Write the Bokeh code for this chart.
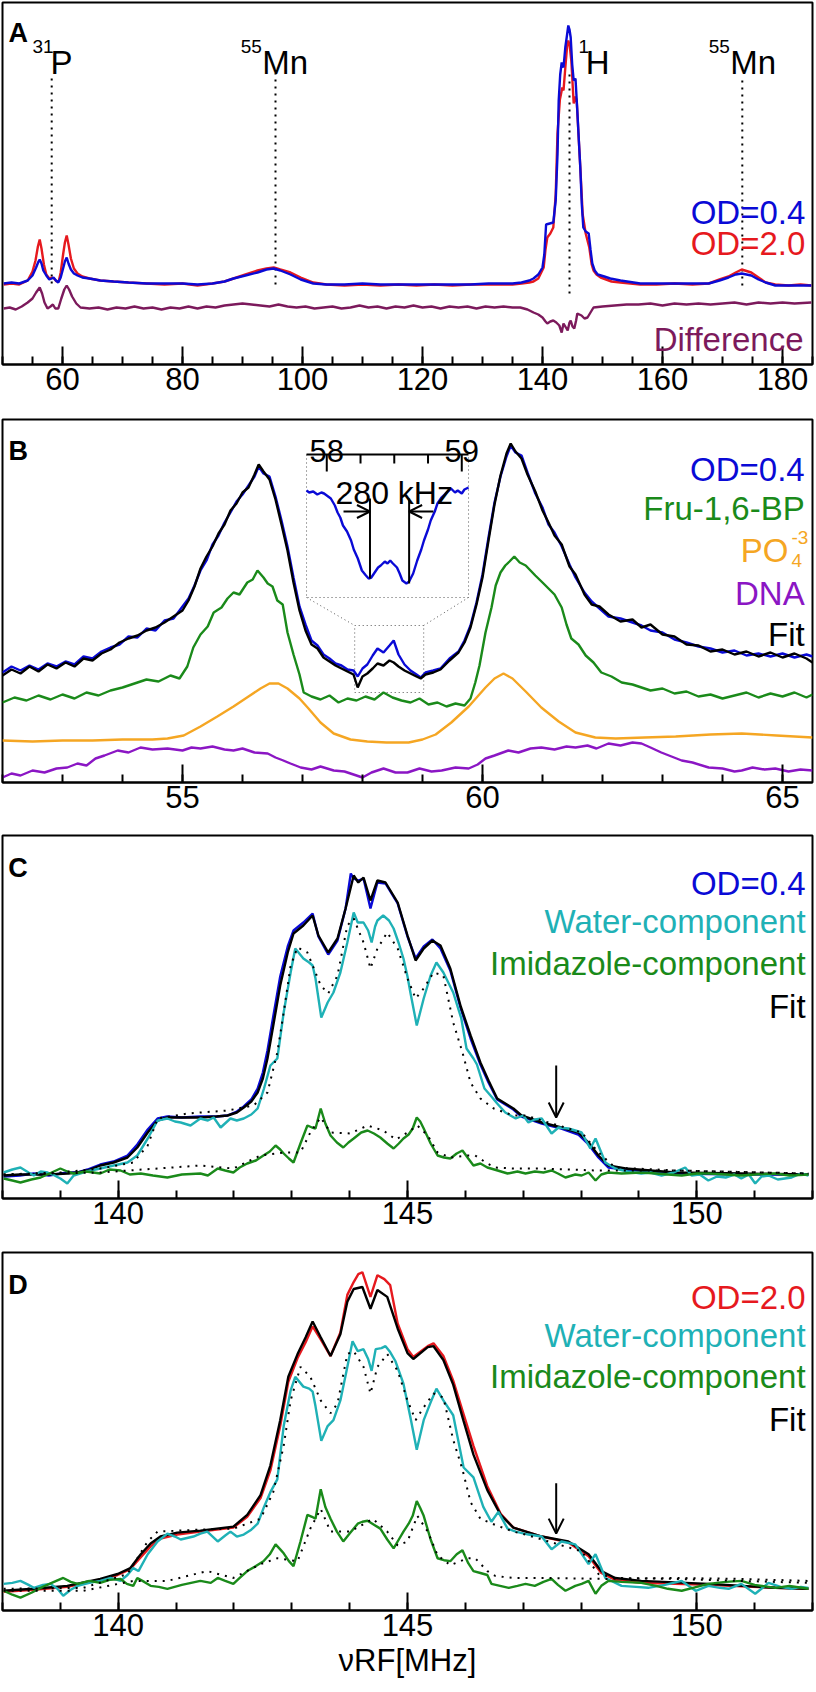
from bokeh.plotting import figure
from bokeh.models import Range1d, FixedTicker, Label, Arrow, OpenHead
from bokeh.layouts import column
from bokeh.embed import file_html
from bokeh.resources import INLINE

FONT = "Liberation Sans"
BLUE = "#0a0ad6"
RED = "#e6191e"
DIFF = "#7c1a5c"
GREEN = "#1a8a1a"
ORANGE = "#f5a623"
VIOLET = "#8b16c4"
CYAN = "#1fb1b6"

# ---------------- data (x in MHz, y in arbitrary intensity units) ----------------
A_TICKS = [60, 80, 100, 120, 140, 160, 180]
B_TICKS = [55, 60, 65]
CD_TICKS = [140, 145, 150]
INSET_TICKS = [58.0, 58.25, 58.5, 58.75, 59.0]
INSET_TICK_LABELS = ["58", "59"]
X_TITLE = "νRF[MHz]"

A_OD04 = [(50.2,81),(51.5,82),(52.8,81),(54.2,84),(55.0,89),(55.6,97),(56.0,103),(56.2,105),(56.5,101),(56.8,94),(57.3,89),(57.8,85),(58.2,86),(58.5,87),(58.9,84),(59.3,82),(59.7,87),(60.1,96),(60.4,103),(60.7,107),(61.0,101),(61.4,95),(61.9,91),(62.5,89),(63.3,87),(64.5,86),(66.3,84),(68.5,83),(71,82),(74,81),(77,81),(80,81),(82.5,80),(85,81),(87,83),(88.5,86),(90.5,89),(92.5,92),(94,95),(95.2,96),(96.3,94),(98,90),(99.7,85),(101.8,81),(104,80),(107,80),(110,81),(113,80),(116,80),(119,80),(122,80),(125,80),(128,80),(131,81),(133,81),(135,81),(136.5,82),(137.8,84),(138.5,86),(139.3,90),(140.0,97),(140.3,110),(140.6,140),(141.2,141),(141.8,142),(142.2,164),(142.5,210),(142.7,264),(142.95,290),(143.2,302),(143.5,297),(143.8,317),(144.1,330),(144.3,339),(144.5,335),(144.7,327),(144.95,300),(145.2,284),(145.5,286),(145.8,254),(146.05,225),(146.3,197),(146.55,160),(146.8,137),(147.2,133),(147.7,131),(148.0,115),(148.3,101),(148.7,94),(149.2,90),(150.3,88),(151.3,86),(153,84),(156.3,81),(159,81),(162,81),(165,81),(167.7,81),(169.5,84),(171,87),(172.2,90),(173.2,91),(174.8,89),(176,85),(177.2,82),(178.8,79),(181,79),(183,79),(184.8,79)]
A_OD20 = [(50.2,80),(51.5,81),(52.8,80),(54.2,84),(55.0,93),(55.5,104),(55.9,118),(56.2,125),(56.5,116),(56.9,100),(57.3,90),(57.8,86),(58.2,87),(58.6,86),(59.0,83),(59.4,84),(59.7,92),(60.1,110),(60.4,122),(60.7,129),(61.0,120),(61.4,106),(61.9,96),(62.5,91),(63.3,88),(64.5,86),(66.3,84),(68.5,83),(71,82),(74,81),(77,80),(80,81),(82.5,79),(85,81),(87,83),(88.5,86),(90.5,90),(92.5,94),(94,96),(95.2,97),(96.3,95),(98,92),(99.7,87),(101.8,82),(104,80),(107,79),(110,80),(113,79),(116,80),(119,79),(122,80),(125,79),(128,80),(131,80),(133,80),(135,80),(136.5,81),(137.8,82),(138.5,83),(139.3,86),(140.2,97),(140.5,115),(140.8,127),(141.3,131),(141.8,137),(142.2,170),(142.5,231),(142.9,265),(143.3,277),(143.5,274),(143.9,304),(144.1,318),(144.3,324),(144.55,318),(144.8,304),(145.2,261),(145.5,268),(145.7,264),(146.0,230),(146.3,197),(146.7,150),(147.2,131),(147.8,117),(148.2,100),(148.5,94),(149.0,90),(149.7,87),(151.5,83),(153,82),(156.3,80),(159,80),(162,81),(165,80),(167.7,81),(169.5,85),(171,88),(172.2,92),(173.2,95),(174.8,92),(176,87),(177.2,82),(178.8,80),(181,79),(183,80),(184.8,79)]
A_DIFF = [(50.2,56),(51.2,57),(52.2,55),(53.2,58),(54.2,62),(55.0,66),(55.6,72),(56.2,77),(56.6,71),(57.0,62),(57.5,56),(58.0,58),(58.4,60),(58.8,56),(59.3,56),(59.8,66),(60.3,75),(60.7,79),(61.1,75),(61.6,68),(62.3,61),(63,57),(64.5,56),(66,57),(67.5,55),(69,57),(70.5,56),(72,58),(73.5,56),(75,57),(76.5,55),(78,57),(79.5,56),(81,58),(82.5,56),(84,58),(85.5,57),(87,59),(88.5,60),(90,61),(91.5,60),(93,59),(94.5,58),(96,60),(97.5,58),(99,57),(100.5,58),(102,56),(103.5,57),(105,58),(106.5,56),(108,57),(109.5,59),(111,57),(112.5,58),(114,56),(115.5,58),(117,57),(118.5,59),(120,57),(121.5,58),(123,56),(124.5,58),(126,57),(127.5,58),(129,56),(130.5,58),(132,57),(133.5,58),(135,57),(136.3,57),(137.5,55),(138.5,52),(139.3,50),(140.0,47),(140.5,43),(140.8,41),(141.3,43),(141.8,44),(142.3,42),(142.8,39),(143.2,32),(143.5,41),(143.8,38),(144.2,34),(144.5,42),(144.7,44),(145.0,38),(145.3,36),(145.6,44),(145.8,51),(146.5,49),(147.0,46),(147.5,47),(148.0,52),(148.5,57),(150,58),(152,59),(154,60),(156,60),(158,61),(160,59),(162,61),(164,60),(166,61),(168,60),(170,61),(172,62),(174,60),(176,62),(178,61),(180,62),(182,61),(184.8,62)]
A_MARK_X = [58.2, 95.5, 144.5, 173.3]
A_MARK_TOP = [291, 291, 291, 289]
A_MARK_BOTTOM = [81, 80, 71, 79]

B_OD04 = [(52.0,110),(52.15,116),(52.3,112),(52.45,117),(52.6,113),(52.75,119),(52.9,116),(53.05,121),(53.2,118),(53.35,126),(53.5,124),(53.65,131),(53.8,135),(53.95,138),(54.1,146),(54.25,145),(54.4,154),(54.55,152),(54.7,162),(54.85,164),(55.0,176),(55.1,184),(55.2,197),(55.3,212),(55.4,222),(55.5,238),(55.6,247),(55.7,260),(55.8,270),(55.9,281),(56.0,288),(56.1,297),(56.2,306),(56.27,316),(56.35,309),(56.45,306),(56.55,286),(56.65,262),(56.75,236),(56.85,205),(56.95,176),(57.05,158),(57.15,142),(57.25,137),(57.35,128),(57.45,124),(57.55,119),(57.65,117),(57.75,113),(57.85,112),(57.92,106),(58.0,114),(58.08,118),(58.17,127),(58.25,134),(58.35,130),(58.45,137),(58.52,142),(58.6,128),(58.7,118),(58.8,112),(58.9,108),(58.97,105),(59.05,110),(59.18,112),(59.3,114),(59.45,124),(59.6,131),(59.7,142),(59.8,157),(59.9,180),(60.0,208),(60.1,245),(60.2,280),(60.3,306),(60.4,326),(60.47,337),(60.55,330),(60.65,327),(60.75,310),(60.88,289),(61.0,275),(61.1,258),(61.2,250),(61.32,236),(61.45,218),(61.55,205),(61.7,190),(61.82,181),(61.95,174),(62.1,166),(62.3,164),(62.5,160),(62.65,157),(62.8,152),(63.0,150),(63.2,143),(63.4,140),(63.6,136),(63.8,134),(64.0,130),(64.2,132),(64.4,127),(64.6,129),(64.8,126),(65.0,129),(65.2,125),(65.4,128),(65.5,126)]
B_FIT = [(52.0,107),(52.15,113),(52.3,109),(52.45,116),(52.6,111),(52.75,118),(52.9,114),(53.05,120),(53.2,116),(53.35,124),(53.5,122),(53.65,129),(53.8,133),(53.95,140),(54.1,144),(54.25,147),(54.4,152),(54.55,155),(54.7,160),(54.85,166),(55.0,172),(55.1,182),(55.2,196),(55.3,214),(55.4,226),(55.5,236),(55.6,249),(55.7,258),(55.8,272),(55.9,279),(56.0,290),(56.1,295),(56.2,308),(56.27,318),(56.35,311),(56.45,303),(56.55,283),(56.65,258),(56.75,232),(56.85,200),(56.95,172),(57.05,152),(57.15,138),(57.25,134),(57.35,125),(57.45,121),(57.55,117),(57.65,114),(57.75,111),(57.85,108),(57.92,95),(58.0,106),(58.08,109),(58.17,114),(58.25,119),(58.35,117),(58.45,122),(58.52,120),(58.6,116),(58.7,112),(58.8,109),(58.9,106),(58.97,104),(59.05,108),(59.18,110),(59.3,113),(59.45,122),(59.6,130),(59.7,140),(59.8,155),(59.9,178),(60.0,205),(60.1,242),(60.2,278),(60.3,307),(60.4,329),(60.47,339),(60.55,331),(60.65,324),(60.75,308),(60.88,291),(61.0,272),(61.1,260),(61.2,247),(61.32,238),(61.45,216),(61.55,208),(61.7,188),(61.82,178),(61.95,176),(62.1,168),(62.3,161),(62.5,163),(62.65,155),(62.8,158),(63.0,148),(63.2,146),(63.4,138),(63.6,137),(63.8,131),(64.0,133),(64.2,128),(64.4,131),(64.6,126),(64.8,130),(65.0,125),(65.2,129),(65.4,124),(65.5,120)]
B_FRU = [(52.0,80),(52.2,85),(52.4,82),(52.6,87),(52.8,83),(53.0,88),(53.2,84),(53.4,90),(53.6,87),(53.8,92),(54.0,95),(54.2,99),(54.4,103),(54.6,101),(54.8,107),(54.95,104),(55.08,116),(55.18,135),(55.3,148),(55.42,156),(55.52,170),(55.65,175),(55.75,184),(55.85,190),(55.95,188),(56.08,200),(56.17,203),(56.25,212),(56.35,205),(56.42,199),(56.5,196),(56.58,182),(56.67,178),(56.75,150),(56.85,128),(56.95,108),(57.02,90),(57.15,86),(57.3,83),(57.45,87),(57.6,80),(57.75,84),(57.9,82),(58.05,86),(58.2,83),(58.35,90),(58.5,85),(58.65,82),(58.8,80),(58.95,84),(59.1,78),(59.25,80),(59.4,76),(59.55,79),(59.7,77),(59.8,84),(59.88,100),(59.95,117),(60.05,150),(60.15,175),(60.22,197),(60.3,210),(60.38,217),(60.45,221),(60.53,226),(60.62,220),(60.72,217),(60.8,212),(60.88,207),(61.0,200),(61.1,194),(61.2,188),(61.32,175),(61.4,158),(61.48,144),(61.6,138),(61.72,127),(61.85,120),(61.98,110),(62.15,106),(62.32,100),(62.5,98),(62.65,95),(62.8,92),(63.0,94),(63.2,89),(63.4,91),(63.6,86),(63.8,88),(64.0,84),(64.2,87),(64.4,90),(64.6,85),(64.8,89),(65.0,86),(65.2,90),(65.4,85),(65.5,88)]
B_PO4 = [(52.0,42),(52.5,41),(53.0,42),(53.5,42),(54.0,43),(54.5,43),(54.75,44),(55.02,47),(55.3,56),(55.58,66),(55.85,76),(56.1,86),(56.3,94),(56.45,99),(56.6,99),(56.75,94),(56.95,84),(57.1,74),(57.3,60),(57.52,49),(57.8,43),(58.08,41),(58.4,40),(58.77,40),(59.0,43),(59.22,48),(59.48,60),(59.77,76),(60.05,95),(60.2,104),(60.35,109),(60.5,104),(60.72,91),(60.98,75),(61.27,61),(61.55,50),(61.88,45),(62.22,44),(62.7,45),(63.22,46),(63.8,48),(64.32,49),(64.9,47),(65.5,45)]
B_DNA = [(52.0,5),(52.15,9),(52.3,7),(52.5,12),(52.7,10),(52.9,14),(53.08,15),(53.25,19),(53.4,17),(53.55,24),(53.7,27),(53.92,32),(54.1,30),(54.3,35),(54.5,33),(54.75,34),(55.0,32),(55.15,35),(55.3,34),(55.5,36),(55.7,33),(55.85,32),(56.0,34),(56.2,30),(56.42,29),(56.55,25),(56.68,22),(56.8,19),(56.97,15),(57.15,13),(57.3,16),(57.52,12),(57.7,11),(57.85,8),(58.0,5),(58.15,10),(58.35,14),(58.55,10),(58.75,10),(58.95,14),(59.15,11),(59.32,12),(59.55,15),(59.77,14),(59.92,18),(60.05,24),(60.2,27),(60.43,32),(60.6,30),(60.8,34),(60.98,35),(61.2,33),(61.4,36),(61.55,35),(61.75,37),(61.9,34),(62.1,39),(62.3,37),(62.5,40),(62.65,39),(62.8,35),(62.98,30),(63.15,26),(63.32,22),(63.5,20),(63.77,15),(64.0,14),(64.2,11),(64.32,12),(64.5,15),(64.7,13),(64.88,14),(65.1,11),(65.3,13),(65.5,12)]
B_INSET = [(57.85,107),(57.87,105),(57.90,106),(57.93,103),(57.96,105),(57.98,104),(58.01,101),(58.03,99),(58.06,92),(58.08,85),(58.10,80),(58.12,72),(58.15,66),(58.18,57),(58.20,48),(58.23,39),(58.26,27),(58.29,22),(58.31,19),(58.33,20),(58.35,24),(58.38,30),(58.40,32),(58.43,36),(58.45,34),(58.47,37),(58.49,34),(58.52,30),(58.54,24),(58.56,17),(58.59,14),(58.61,16),(58.64,24),(58.67,37),(58.70,48),(58.72,57),(58.75,68),(58.77,77),(58.80,86),(58.82,94),(58.85,100),(58.88,104),(58.92,109),(58.95,105),(58.97,107),(59.0,104),(59.02,108),(59.05,110)]
B_SPLIT_X = [58.32, 58.61]      # the two minima, 280 kHz apart
B_SPLIT_TOP = [99, 99]
B_SPLIT_BOTTOM = [19, 14]

C_OD04 = [(138.02,22),(138.3,23),(138.54,25),(138.8,23),(139.12,26),(139.3,26),(139.47,29),(139.69,34),(139.92,37),(140.16,43),(140.33,54),(140.51,69),(140.68,80),(140.85,82),(141.1,81),(141.42,82),(141.7,82),(141.89,83),(142.05,87),(142.17,92),(142.3,99),(142.41,110),(142.5,126),(142.58,148),(142.68,182),(142.8,222),(142.93,252),(143.03,268),(143.2,276),(143.36,285),(143.46,262),(143.63,244),(143.79,258),(143.93,290),(144.02,325),(144.07,320),(144.15,318),(144.24,320),(144.36,290),(144.48,316),(144.62,315),(144.83,295),(145.0,262),(145.14,240),(145.28,252),(145.43,259),(145.57,250),(145.74,228),(145.92,190),(146.09,160),(146.26,134),(146.4,116),(146.55,99),(146.83,89),(146.97,82),(147.32,75),(147.66,70),(147.95,64),(148.13,54),(148.30,41),(148.47,31),(148.77,29),(149.63,25),(150.77,24),(151.93,24)]
C_FIT = [(138.02,23),(138.3,24),(138.54,24),(138.8,24),(139.12,25),(139.3,26),(139.47,28),(139.69,33),(139.92,36),(140.16,41),(140.33,51),(140.51,66),(140.68,78),(140.85,81),(141.1,81),(141.42,81),(141.7,82),(141.89,83),(142.05,86),(142.17,91),(142.3,97),(142.41,106),(142.5,120),(142.58,140),(142.68,173),(142.8,213),(142.93,246),(143.03,265),(143.2,273),(143.36,283),(143.46,263),(143.63,246),(143.79,260),(143.93,290),(144.07,323),(144.15,316),(144.24,321),(144.36,298),(144.48,318),(144.62,316),(144.83,296),(145.0,263),(145.14,238),(145.28,250),(145.43,258),(145.57,253),(145.74,230),(145.92,192),(146.09,163),(146.26,136),(146.4,118),(146.55,100),(146.83,90),(146.97,83),(147.32,76),(147.66,71),(147.95,66),(148.13,56),(148.30,43),(148.47,33),(148.77,30),(149.63,26),(150.77,25),(151.93,24)]
C_WATER = [(138.02,26),(138.17,29),(138.31,31),(138.45,26),(138.54,23),(138.66,27),(138.78,26),(138.9,23),(139.0,20),(139.12,15),(139.23,23),(139.45,27),(139.69,30),(139.92,33),(140.16,36),(140.33,43),(140.51,60),(140.68,78),(140.85,80),(140.98,77),(141.08,76),(141.25,73),(141.42,80),(141.55,78),(141.65,81),(141.77,71),(141.94,80),(142.05,78),(142.17,80),(142.3,84),(142.41,90),(142.52,110),(142.63,133),(142.75,140),(142.86,186),(142.98,226),(143.06,250),(143.2,240),(143.3,236),(143.36,233),(143.41,220),(143.51,181),(143.62,196),(143.72,206),(143.84,226),(143.96,256),(144.07,286),(144.14,276),(144.24,276),(144.32,268),(144.38,256),(144.44,272),(144.48,278),(144.58,283),(144.68,278),(144.76,270),(144.85,255),(144.93,240),(145.0,222),(145.05,206),(145.16,173),(145.28,200),(145.40,223),(145.50,236),(145.62,226),(145.79,206),(145.93,180),(146.02,150),(146.14,140),(146.2,134),(146.33,110),(146.45,102),(146.55,95),(146.69,86),(146.87,80),(147.0,83),(147.09,76),(147.2,79),(147.32,80),(147.49,65),(147.61,71),(147.78,70),(147.9,68),(148.01,66),(148.16,50),(148.25,60),(148.42,36),(148.59,30),(148.8,27),(149.04,25),(149.2,26),(149.39,23),(149.6,26),(149.80,31),(149.91,23),(150.05,24),(150.20,18),(150.35,22),(150.50,21),(150.65,24),(150.77,20),(150.9,24),(151.01,15),(151.12,22),(151.24,23),(151.4,19),(151.64,21),(151.8,25),(151.93,23)]
C_IMID = [(138.02,20),(138.17,18),(138.31,16),(138.5,19),(138.66,21),(138.85,26),(139.0,30),(139.12,27),(139.23,25),(139.45,27),(139.69,25),(139.85,29),(140.04,28),(140.2,24),(140.39,25),(140.6,23),(140.85,21),(141.1,24),(141.42,25),(141.55,23),(141.72,30),(141.85,28),(141.99,26),(142.1,31),(142.23,35),(142.38,38),(142.51,43),(142.62,47),(142.72,53),(142.8,49),(142.86,45),(142.95,40),(143.03,36),(143.15,55),(143.27,73),(143.35,71),(143.41,70),(143.50,90),(143.58,75),(143.67,63),(143.78,56),(143.89,51),(143.98,56),(144.07,60),(144.2,66),(144.31,68),(144.42,65),(144.53,61),(144.65,55),(144.76,50),(144.85,55),(144.93,60),(145.02,64),(145.09,70),(145.16,81),(145.22,77),(145.28,70),(145.4,55),(145.52,43),(145.63,41),(145.74,40),(145.85,45),(145.95,48),(146.05,40),(146.14,33),(146.26,35),(146.38,31),(146.5,29),(146.73,25),(146.9,27),(147.04,25),(147.2,27),(147.35,26),(147.49,28),(147.6,25),(147.73,21),(147.9,24),(148.01,23),(148.13,26),(148.25,18),(148.35,24),(148.47,26),(148.7,25),(149.04,26),(149.3,25),(149.5,24),(149.74,23),(150.0,25),(150.2,25),(150.5,24),(150.77,23),(151.0,24),(151.36,25),(151.6,23),(151.93,24)]
C_WATER_MODEL = [(138.02,24),(139.0,26),(139.69,30),(140.26,36),(140.51,53),(140.68,80),(141.2,85),(141.89,88),(142.34,93),(142.58,106),(142.75,146),(142.86,186),(142.98,233),(143.1,251),(143.27,246),(143.5,213),(143.63,205),(143.79,223),(143.96,273),(144.07,280),(144.24,256),(144.36,230),(144.48,250),(144.65,266),(144.83,250),(145.0,220),(145.14,200),(145.28,210),(145.45,226),(145.62,223),(145.79,176),(145.95,146),(146.09,116),(146.26,100),(146.49,90),(146.83,83),(147.04,83),(147.61,73),(148.01,66),(148.30,46),(148.59,31),(149.63,28),(151.93,25)]
C_IMID_MODEL = [(138.02,24),(139.69,26),(141.42,33),(141.99,30),(142.46,43),(142.86,46),(143.15,46),(143.32,66),(143.50,81),(143.67,66),(144.01,65),(144.31,73),(144.58,68),(144.8,59),(145.0,66),(145.17,73),(145.35,63),(145.52,46),(145.74,41),(146.04,43),(146.17,43),(146.38,35),(146.52,31),(146.83,30),(147.32,30),(148.25,28),(149.63,28),(151.93,25)]
C_ARROW = (147.57, 133, 81)

D_OD20 = [(138.02,19),(138.54,21),(139.12,24),(139.69,31),(139.99,36),(140.21,42),(140.39,54),(140.56,65),(140.73,73),(141.02,77),(141.42,80),(141.99,84),(142.23,95),(142.46,114),(142.63,142),(142.80,187),(142.94,232),(143.10,256),(143.24,272),(143.36,288),(143.50,275),(143.67,258),(143.84,282),(143.96,320),(144.07,333),(144.15,341),(144.22,343),(144.36,318),(144.48,340),(144.6,336),(144.7,330),(144.83,291),(145.0,265),(145.10,257),(145.35,268),(145.45,271),(145.62,258),(145.79,233),(145.97,199),(146.14,167),(146.38,126),(146.61,98),(146.83,84),(147.32,75),(147.78,69),(148.13,55),(148.35,38),(148.59,31),(149.04,28),(150.20,26),(151.36,23),(151.93,22)]
D_FIT = [(138.02,20),(138.54,22),(139.12,25),(139.69,32),(139.99,37),(140.21,43),(140.39,57),(140.56,68),(140.73,75),(141.02,79),(141.42,81),(141.99,85),(142.23,97),(142.46,117),(142.63,147),(142.80,193),(142.94,237),(143.10,260),(143.24,277),(143.36,293),(143.50,277),(143.67,258),(143.84,280),(143.96,313),(144.07,326),(144.22,328),(144.36,306),(144.48,325),(144.65,318),(144.83,286),(145.0,261),(145.10,255),(145.35,267),(145.45,268),(145.62,254),(145.79,229),(145.97,192),(146.14,158),(146.38,122),(146.61,97),(146.83,84),(147.32,75),(147.78,70),(148.13,57),(148.35,40),(148.59,33),(149.04,30),(150.20,27),(151.36,23),(151.93,22)]
D_WATER = [(138.02,27),(138.17,28),(138.31,30),(138.45,26),(138.54,23),(138.7,26),(138.83,27),(138.95,22),(139.05,15),(139.18,21),(139.30,25),(139.5,28),(139.69,30),(139.87,33),(140.04,30),(140.16,36),(140.26,43),(140.35,40),(140.51,57),(140.68,70),(140.85,78),(140.98,75),(141.08,72),(141.30,75),(141.42,78),(141.54,80),(141.72,70),(141.85,76),(141.94,80),(142.05,75),(142.17,77),(142.3,82),(142.41,88),(142.52,105),(142.63,120),(142.75,133),(142.86,187),(142.98,223),(143.06,237),(143.20,227),(143.3,225),(143.36,222),(143.41,207),(143.51,172),(143.62,187),(143.72,193),(143.84,213),(143.96,247),(144.05,273),(144.14,263),(144.24,265),(144.32,255),(144.38,243),(144.45,265),(144.55,266),(144.62,268),(144.7,262),(144.79,253),(144.93,230),(145.05,196),(145.16,163),(145.28,193),(145.40,211),(145.50,225),(145.62,213),(145.79,198),(145.97,145),(146.14,135),(146.31,105),(146.45,90),(146.57,100),(146.73,83),(146.87,80),(147.09,77),(147.32,75),(147.49,62),(147.66,70),(147.9,67),(148.13,47),(148.25,57),(148.42,33),(148.70,25),(148.95,24),(149.16,23),(149.45,26),(149.74,30),(149.98,20),(150.20,25),(150.4,23),(150.55,22),(150.77,27),(151.01,17),(151.24,28),(151.45,24),(151.64,22),(151.8,24),(151.93,23)]
D_IMID = [(138.02,20),(138.17,16),(138.31,13),(138.5,18),(138.66,23),(138.85,28),(139.05,33),(139.18,29),(139.30,27),(139.5,30),(139.69,28),(139.85,31),(140.04,32),(140.15,27),(140.26,25),(140.33,33),(140.45,29),(140.56,25),(140.7,24),(140.85,22),(141.1,26),(141.42,30),(141.6,28),(141.72,33),(141.85,30),(141.99,27),(142.1,33),(142.23,40),(142.38,45),(142.51,50),(142.62,57),(142.72,67),(142.8,62),(142.86,58),(142.95,50),(143.03,45),(143.15,70),(143.27,97),(143.35,95),(143.41,93),(143.50,123),(143.58,105),(143.67,93),(143.78,80),(143.89,70),(144.0,78),(144.14,88),(144.22,90),(144.31,91),(144.42,87),(144.53,83),(144.65,72),(144.76,63),(144.85,72),(144.93,80),(145.02,88),(145.09,96),(145.16,111),(145.22,104),(145.28,96),(145.4,72),(145.52,53),(145.63,51),(145.74,50),(145.85,57),(145.95,61),(146.05,48),(146.14,40),(146.26,38),(146.38,36),(146.45,27),(146.6,25),(146.75,23),(146.9,25),(147.04,27),(147.2,25),(147.35,29),(147.49,32),(147.6,26),(147.73,20),(147.9,25),(148.01,27),(148.13,30),(148.25,17),(148.35,25),(148.47,30),(148.7,29),(149.04,28),(149.3,25),(149.5,22),(149.74,20),(150.0,24),(150.20,27),(150.5,29),(150.77,30),(151.0,26),(151.36,23),(151.6,25),(151.93,22)]
D_WATER_MODEL = [(138.02,22),(139.40,23),(140.16,37),(140.51,70),(140.68,80),(141.42,82),(141.99,83),(142.46,93),(142.68,120),(142.86,167),(142.98,213),(143.15,247),(143.32,237),(143.50,213),(143.67,200),(143.79,210),(143.96,260),(144.07,263),(144.24,247),(144.36,220),(144.48,247),(144.65,260),(144.83,243),(145.0,213),(145.14,193),(145.28,206),(145.45,220),(145.62,216),(145.79,173),(145.95,143),(146.09,110),(146.26,93),(146.55,86),(146.83,80),(147.04,77),(147.61,67),(148.01,60),(148.30,37),(148.59,33),(149.63,32),(150.77,30),(151.93,28)]
D_IMID_MODEL = [(138.02,20),(139.40,20),(140.26,30),(140.85,30),(141.54,40),(141.99,33),(142.46,47),(142.75,53),(143.10,50),(143.32,83),(143.50,103),(143.67,80),(144.01,80),(144.40,93),(144.65,80),(144.83,66),(145.0,70),(145.17,96),(145.35,80),(145.52,56),(145.74,46),(146.04,53),(146.17,53),(146.38,40),(146.52,35),(146.83,33),(147.32,33),(148.47,32),(149.63,33),(150.77,32),(151.93,30)]
D_ARROW = (147.57, 129, 78)

# ---------------- helpers ----------------
def X(pairs):
    return [a for a, _ in pairs]

def Y(pairs):
    return [b for _, b in pairs]

W = 816
BL, BR = 2, 4   # left / right borders -> frame spans x = 2 .. 812

def panel(xr, yr, height, top, bottom, ticks, minor, standoff=3):
    p = figure(width=W, height=height, x_range=Range1d(*xr), y_range=Range1d(*yr),
               output_backend="svg", toolbar_location=None, y_axis_location=None,
               min_border_left=BL, min_border_right=BR, min_border_top=top, min_border_bottom=bottom,
               background_fill_color="white", border_fill_color="white",
               outline_line_color="black", outline_line_width=2, outline_line_alpha=1.0)
    p.xgrid.visible = False
    p.ygrid.visible = False
    ax = p.xaxis[0]
    ax.axis_label = None
    ax.ticker = FixedTicker(ticks=ticks, minor_ticks=minor)
    ax.major_tick_in = 18
    ax.major_tick_out = 0
    ax.minor_tick_in = 8
    ax.minor_tick_out = 0
    ax.major_tick_line_width = 2
    ax.minor_tick_line_width = 2
    ax.axis_line_width = 2
    ax.major_label_text_font = FONT
    ax.major_label_text_font_size = "31px"
    ax.major_label_text_color = "black"
    ax.major_label_standoff = standoff
    return p

def txt(p, x, y, s, size, color="black", align="left", bold=False, xr="default", yr="default"):
    p.add_layout(Label(x=x, y=y, text=s, text_font=FONT, text_font_size=f"{size}px",
                       text_color=color, text_align=align, text_baseline="alphabetic",
                       text_font_style="bold" if bold else "normal",
                       x_range_name=xr, y_range_name=yr))

def trace(p, pairs, color, width=2.4, dash="solid", **kw):
    p.line(X(pairs), Y(pairs), line_color=color, line_width=width, line_dash=dash, **kw)

LEG = 33
SUP = 19

# ---------------- Panel A ----------------
A_XR, A_YR = (50, 185), (0, 362)
pA = panel(A_XR, A_YR, 417, 2, 53, A_TICKS, list(range(50, 186, 5)))
pA.segment(x0=A_MARK_X, y0=A_MARK_BOTTOM, x1=A_MARK_X, y1=A_MARK_TOP,
           line_color="black", line_width=2, line_dash="2 5")
trace(pA, A_OD20, RED)
trace(pA, A_OD04, BLUE)
trace(pA, A_DIFF, DIFF)
txt(pA, 51.0, 332, "A", 27, bold=True)
txt(pA, 55.0, 318, "31", SUP)
txt(pA, 58.0, 302, "P", LEG)
txt(pA, 89.7, 318, "55", SUP)
txt(pA, 93.3, 302, "Mn", LEG)
txt(pA, 146.0, 318, "1", SUP)
txt(pA, 147.2, 302, "H", LEG)
txt(pA, 167.7, 318, "55", SUP)
txt(pA, 171.3, 302, "Mn", LEG)
txt(pA, 183.8, 152, "OD=0.4", LEG, BLUE, "right")
txt(pA, 183.8, 121, "OD=2.0", LEG, RED, "right")
txt(pA, 183.5, 25, "Difference", LEG, DIFF, "right")

# ---------------- Panel B ----------------
B_XR, B_YR = (52, 65.5), (0, 363)
pB = panel(B_XR, B_YR, 416, 2, 51, B_TICKS, list(range(52, 66)))
INSET_VIEW_X, INSET_VIEW_Y = (57.85, 59.05), (0, 143)
INSET_PLACE_X, INSET_PLACE_Y = (57.067, 59.767), (185, 328)
SMALL_BOX_X, SMALL_BOX_Y = (57.87, 59.02), (90, 157)
kx = (INSET_PLACE_X[1] - INSET_PLACE_X[0]) / (INSET_VIEW_X[1] - INSET_VIEW_X[0])
ky = (INSET_PLACE_Y[1] - INSET_PLACE_Y[0]) / (INSET_VIEW_Y[1] - INSET_VIEW_Y[0])
pB.extra_x_ranges = {"ix": Range1d(INSET_VIEW_X[0] - (INSET_PLACE_X[0] - B_XR[0]) / kx,
                                   INSET_VIEW_X[1] + (B_XR[1] - INSET_PLACE_X[1]) / kx)}
pB.extra_y_ranges = {"iy": Range1d(INSET_VIEW_Y[0] - (INSET_PLACE_Y[0] - B_YR[0]) / ky,
                                   INSET_VIEW_Y[1] + (B_YR[1] - INSET_PLACE_Y[1]) / ky)}
IN = dict(x_range_name="ix", y_range_name="iy")

bx0, bx1 = SMALL_BOX_X
by0, by1 = SMALL_BOX_Y
pB.line([bx0, bx1, bx1, bx0, bx0], [by0, by0, by1, by1, by0], line_color="#555555", line_width=1, line_dash="1 3")
pB.segment(x0=[INSET_PLACE_X[0], INSET_PLACE_X[1]], y0=[INSET_PLACE_Y[0]] * 2,
           x1=[bx0, bx1], y1=[by1, by1], line_color="#555555", line_width=1, line_dash="1 3")
ix0, ix1 = INSET_VIEW_X
iy0, iy1 = INSET_VIEW_Y
pB.line([ix0, ix0, ix1, ix1], [iy1, iy0, iy0, iy1], line_color="#555555", line_width=1, line_dash="1 3", **IN)
pB.line([ix0, ix1], [iy1, iy1], line_color="black", line_width=2, **IN)
tick_len = [17 if t in (58.0, 59.0) else 9 for t in INSET_TICKS]
pB.segment(x0=INSET_TICKS, y0=[iy1] * len(INSET_TICKS), x1=INSET_TICKS,
           y1=[iy1 - l for l in tick_len], line_color="black", line_width=2, **IN)
txt(pB, 58.0, iy1 + 4, INSET_TICK_LABELS[0], 31, align="center", xr="ix", yr="iy")
txt(pB, 59.0, iy1 + 4, INSET_TICK_LABELS[1], 31, align="center", xr="ix", yr="iy")
trace(pB, B_INSET, BLUE, **IN)
pB.segment(x0=B_SPLIT_X, y0=B_SPLIT_BOTTOM, x1=B_SPLIT_X, y1=B_SPLIT_TOP,
           line_color="black", line_width=2, **IN)
pB.add_layout(Arrow(end=OpenHead(size=13, line_width=2, line_color="black"),
                    x_start=58.124, y_start=86, x_end=B_SPLIT_X[0], y_end=86,
                    line_color="black", line_width=2, **IN))
pB.add_layout(Arrow(end=OpenHead(size=13, line_width=2, line_color="black"),
                    x_start=58.79, y_start=86, x_end=B_SPLIT_X[1], y_end=86,
                    line_color="black", line_width=2, **IN))
txt(pB, 58.5, 105, "280 kHz", 32, align="center", xr="ix", yr="iy")

trace(pB, B_DNA, VIOLET)
trace(pB, B_PO4, ORANGE)
trace(pB, B_FRU, GREEN)
trace(pB, B_OD04, BLUE)
trace(pB, B_FIT, "black")
txt(pB, 52.1, 332, "B", 27, bold=True)
txt(pB, 65.37, 313, "OD=0.4", LEG, BLUE, "right")
txt(pB, 65.37, 274, "Fru-1,6-BP", LEG, GREEN, "right")
txt(pB, 65.1, 232, "PO", LEG, ORANGE, "right")
txt(pB, 65.15, 222, "4", SUP, ORANGE)
txt(pB, 65.15, 245, "-3", SUP, ORANGE)
txt(pB, 65.37, 189, "DNA", LEG, VIOLET, "right")
txt(pB, 65.37, 148, "Fit", LEG, "black", "right")

# ---------------- Panels C and D ----------------
CD_XR, CD_YR = (138, 152), (0, 363)

def spectrum_panel(height, top, bottom, letter, od_pairs, od_color, od_label, fit, water, imid,
                   water_model, imid_model, arrow, letter_y, leg_y):
    p = panel(CD_XR, CD_YR, height, top, bottom, CD_TICKS, list(range(138, 153)))
    trace(p, od_pairs, od_color)
    trace(p, fit, "black")
    trace(p, water, CYAN)
    trace(p, imid, GREEN)
    trace(p, water_model, "black", 2, "2 6")
    trace(p, imid_model, "black", 2, "2 6")
    ax_, y0_, y1_ = arrow
    p.add_layout(Arrow(end=OpenHead(size=15, line_width=2, line_color="black"),
                       x_start=ax_, y_start=y0_, x_end=ax_, y_end=y1_,
                       line_color="black", line_width=2))
    txt(p, 138.1, letter_y, letter, 27, bold=True)
    txt(p, 151.88, leg_y[0], od_label, LEG, od_color, "right")
    txt(p, 151.88, leg_y[1], "Water-component", LEG, CYAN, "right")
    txt(p, 151.88, leg_y[2], "Imidazole-component", LEG, GREEN, "right")
    txt(p, 151.88, leg_y[3], "Fit", LEG, "black", "right")
    return p

pC = spectrum_panel(417, 2, 52, "C", C_OD04, BLUE, "OD=0.4", C_FIT, C_WATER, C_IMID,
                    C_WATER_MODEL, C_IMID_MODEL, C_ARROW, 331, [315, 277, 235, 192])
pD = spectrum_panel(440, 2, 80, "D", D_OD20, RED, "OD=2.0", D_FIT, D_WATER, D_IMID,
                    D_WATER_MODEL, D_IMID_MODEL, D_ARROW, 330, [317, 279, 237, 194])
# axis title of the bottom panel, laid out by the axis itself
axD = pD.xaxis[0]
axD.axis_label = X_TITLE
axD.axis_label_text_font = FONT
axD.axis_label_text_font_size = "31px"
axD.axis_label_text_font_style = "normal"
axD.axis_label_text_color = "black"
axD.axis_label_standoff = 4

layout = column(pA, pB, pC, pD)
open("out.html", "w").write(file_html(layout, INLINE))
